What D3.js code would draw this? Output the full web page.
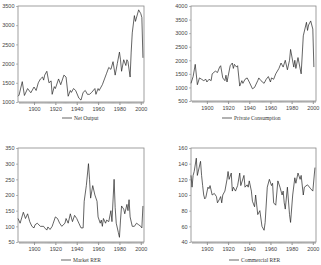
<!DOCTYPE html>
<html>
<head>
<meta charset="utf-8">
<script src="https://cdn.jsdelivr.net/npm/d3@7"></script>
<style>
	body { margin: 0; background: #fff; }
	svg { display: block; font-family: "Liberation Serif", "Times New Roman", serif; }
	.tick text { fill: #444; font-size: 5.5px; }
	.legend { fill: #333; font-size: 5.5px; }
</style>
</head>
<body>
<svg id="canvas" width="321" height="265"></svg>
<script>
// series data
var outputYears = [1885,1886,1889,1891,1894,1897,1900,1902,1904,1906,1908,1909,1910,1912,1914,1916,1917,1919,1920,1923,1925,1928,1930,1932,1934,1935,1937,1939,1942,1944,1946,1948,1950,1952,1954,1957,1958,1960,1961,1964,1966,1968,1970,1972,1974,1976,1978,1980,1981,1982,1984,1986,1987,1988,1990,1991,1992,1994,1995,1998,2000,2001,2002];
var outputValues = [1150,1180,1530,1170,1350,1240,1390,1300,1500,1600,1650,1570,1700,1800,1500,1550,1200,1400,1350,1600,1450,1700,1650,1150,1300,1250,1350,1300,1100,1050,1250,1300,1200,1200,1250,1350,1200,1350,1300,1450,1600,1750,1900,1850,2050,1700,2000,2300,2100,1800,2100,1950,2100,2050,1650,2300,2800,3250,3100,3400,3300,3200,2150];

var consYears = [1885,1887,1889,1891,1893,1895,1897,1899,1900,1902,1904,1905,1908,1910,1912,1913,1915,1917,1918,1919,1920,1922,1924,1925,1926,1927,1928,1929,1931,1933,1934,1936,1938,1940,1943,1945,1948,1949,1951,1954,1956,1958,1960,1961,1963,1965,1968,1970,1972,1974,1976,1978,1979,1982,1983,1984,1986,1989,1991,1994,1995,1996,1998,1999,2000,2001];
var consValues = [1150,1400,1850,1100,1350,1300,1250,1300,1200,1300,1250,1500,1600,1550,1750,1800,1350,1250,1450,1200,1400,1800,1900,1700,1850,1800,1750,1800,1050,1250,1150,1300,1350,1200,950,1000,1250,1350,1250,1150,1300,1400,1200,1350,1300,1500,1700,1900,1750,2000,1650,2000,2400,1750,2000,1700,2100,1500,2900,3400,3100,3300,3450,3300,3150,1750];

var marketYears = [1885,1887,1890,1892,1894,1896,1898,1900,1901,1903,1906,1909,1910,1912,1913,1915,1917,1918,1920,1922,1924,1926,1929,1930,1932,1934,1936,1938,1940,1942,1944,1946,1947,1949,1951,1952,1953,1955,1957,1959,1960,1962,1963,1964,1965,1967,1968,1970,1972,1973,1975,1976,1977,1979,1980,1981,1982,1984,1985,1987,1988,1989,1990,1992,1994,1996,1998,2000,2001,2002];
var marketValues = [125,110,145,125,140,115,100,95,105,110,100,100,95,88,98,90,100,110,130,125,110,100,110,125,110,140,115,135,125,110,95,95,180,230,300,250,190,230,200,180,130,110,120,100,125,110,120,115,150,115,250,160,110,80,65,120,165,155,140,170,150,185,130,100,100,110,105,100,95,165];

var commYears = [1885,1886,1887,1888,1890,1891,1894,1895,1896,1897,1898,1899,1901,1902,1903,1905,1907,1909,1910,1912,1913,1914,1915,1917,1919,1920,1921,1923,1924,1925,1927,1929,1931,1932,1935,1936,1938,1939,1940,1942,1943,1945,1946,1948,1950,1952,1954,1955,1957,1959,1961,1962,1963,1965,1967,1969,1971,1972,1973,1974,1976,1978,1979,1981,1983,1984,1986,1988,1989,1991,1992,1995,1998,2000,2002];
var commValues = [125,110,125,130,147,125,143,125,112,100,95,97,110,108,112,100,102,98,90,95,98,90,100,105,120,130,120,128,105,110,105,112,128,112,125,110,113,110,118,105,92,85,100,75,80,60,55,65,110,120,112,115,90,87,118,110,100,105,90,82,110,75,65,100,122,115,128,120,125,100,110,113,108,105,135];

var labels = ["Net Output", "Private Consumption", "Market RER", "Commercial RER"];
var yDomains = [[1000, 3500], [500, 4000], [50, 350], [40, 160]];
var yTickValues = [
	[1000, 1500, 2000, 2500, 3000, 3500],
	[500, 1000, 1500, 2000, 2500, 3000, 3500, 4000],
	[50, 100, 150, 200, 250, 300, 350],
	[40, 60, 80, 100, 120, 140, 160]
];
var xTickYears = [1900, 1920, 1940, 1960, 1980, 2000];
var yearDomain = [1885, 2003];

// panel boxes: left, top, right, bottom, legend line x, legend y
var panels = [
	{ left: 18, top: 6, right: 144, bottom: 102, legX: 62, legY: 118 },
	{ left: 191, top: 6, right: 316, bottom: 101, legX: 222, legY: 118 },
	{ left: 18, top: 148, right: 144, bottom: 242, legX: 61, legY: 260 },
	{ left: 191, top: 148, right: 316, bottom: 242, legX: 229, legY: 260 }
];
var series = [
	[outputYears, outputValues],
	[consYears, consValues],
	[marketYears, marketValues],
	[commYears, commValues]
];

var svg = d3.select("#canvas");
svg.append("rect").attr("width", 321).attr("height", 265).attr("fill", "#fff");

panels.forEach((p, i) => {
	const x = d3.scaleLinear().domain(yearDomain).range([p.left, p.right]);
	const y = d3.scaleLinear().domain(yDomains[i]).range([p.bottom, p.top]);
	const g = svg.append("g");

	// minor year ticks
	g.append("g")
		.selectAll("line")
		.data(d3.range(1886, 2003))
		.join("line")
		.attr("x1", d => x(d) + 0.5)
		.attr("x2", d => x(d) + 0.5)
		.attr("y1", p.bottom)
		.attr("y2", d => p.bottom + (d % 20 === 0 ? 3 : 1.8))
		.attr("stroke", "#777")
		.attr("stroke-width", 0.5);

	// x axis labels
	const xAxis = g.append("g")
		.attr("transform", `translate(0,${p.bottom})`)
		.call(d3.axisBottom(x).tickValues(xTickYears).tickFormat(d3.format("d")).tickSize(3).tickPadding(2));
	xAxis.select(".domain").remove();
	xAxis.selectAll(".tick line").attr("stroke", "#777").attr("stroke-width", 0.5);

	// y axis
	const yAxis = g.append("g")
		.attr("transform", `translate(${p.left},0)`)
		.call(d3.axisLeft(y).tickValues(yTickValues[i]).tickFormat(d3.format("d")).tickSize(2).tickPadding(1.5));
	yAxis.select(".domain").remove();
	yAxis.selectAll(".tick line").attr("stroke", "#777").attr("stroke-width", 0.5);

	// frame
	g.append("rect")
		.attr("x", p.left)
		.attr("y", p.top)
		.attr("width", p.right - p.left)
		.attr("height", p.bottom - p.top)
		.attr("fill", "none")
		.attr("stroke", "#888")
		.attr("stroke-width", 0.8);

	// series line
	const pts = series[i][0].map((yr, k) => [yr, series[i][1][k]]);
	g.append("path")
		.datum(pts)
		.attr("fill", "none")
		.attr("stroke", "#222")
		.attr("stroke-width", 0.7)
		.attr("d", d3.line().x(d => x(d[0])).y(d => y(d[1])));

	// legend
	g.append("line")
		.attr("x1", p.legX)
		.attr("x2", p.legX + 10)
		.attr("y1", p.legY)
		.attr("y2", p.legY)
		.attr("stroke", "#222")
		.attr("stroke-width", 0.7);
	g.append("text")
		.attr("class", "legend")
		.attr("x", p.legX + 12)
		.attr("y", p.legY)
		.attr("dy", "0.33em")
		.text(labels[i]);
});
</script>
</body>
</html>
